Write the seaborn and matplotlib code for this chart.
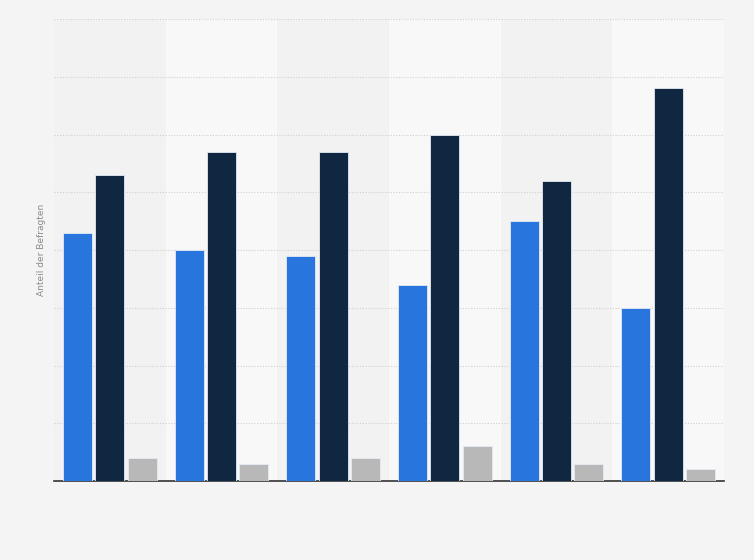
import pandas as pd
import matplotlib.pyplot as plt
import seaborn as sns

# Values (share of respondents, gridlines every 10)
categories = ['Gruppe 1', 'Gruppe 2', 'Gruppe 3', 'Gruppe 4', 'Gruppe 5', 'Gruppe 6']
series_names = ['Serie A', 'Serie B', 'Serie C']
serie_a = [43, 40, 39, 34, 45, 30]
serie_b = [53, 57, 57, 60, 52, 68]
serie_c = [4, 3, 4, 6, 3, 2]

colors = ['#2876dd', '#0f2741', '#b8b8b8']


def build_frame():
    rows = []
    for name, vals in zip(series_names, [serie_a, serie_b, serie_c]):
        for cat, v in zip(categories, vals):
            rows.append({'Kategorie': cat, 'Serie': name, 'Wert': v})
    return pd.DataFrame(rows)


def plot_chart(df):
    sns.set_style('white')
    fig = plt.figure(figsize=(7.54, 5.60), dpi=100, facecolor='#f4f4f4')
    ax = fig.add_axes([54 / 754, 1 - 481 / 560, 670 / 754, 462 / 560])
    ax.set_facecolor('#f4f4f4')

    # alternating background bands per category
    for i in range(len(categories)):
        ax.axvspan(i - 0.5, i + 0.5, color='#f2f2f2' if i % 2 == 0 else '#f8f8f8',
                   zorder=0, lw=0)

    sns.barplot(data=df, x='Kategorie', y='Wert', hue='Serie', palette=colors,
                saturation=1, width=0.87, gap=0.11, ax=ax, legend=False, zorder=3,
                edgecolor='#e4ebf3', linewidth=0.6)

    ax.set_xlim(-0.5, len(categories) - 0.5)
    ax.set_ylim(0, 80)
    ax.set_yticks(range(0, 81, 10))
    ax.yaxis.grid(True, linestyle=(0, (1, 1.5)), color='#d0d0d0', linewidth=0.8, zorder=1)
    ax.set_axisbelow(True)
    ax.tick_params(axis='both', length=0, labelleft=False, labelbottom=False)
    ax.set_xlabel('')
    ax.set_ylabel('Anteil der Befragten', fontsize=6.5, color='#8a8a8a', labelpad=6)

    for side in ['top', 'right', 'left']:
        ax.spines[side].set_visible(False)
    ax.spines['bottom'].set_color('#333333')
    ax.spines['bottom'].set_linewidth(1.2)

    fig.savefig('out.png', dpi=100, facecolor=fig.get_facecolor())


def main():
    df = build_frame()
    plot_chart(df)


if __name__ == '__main__':
    main()
